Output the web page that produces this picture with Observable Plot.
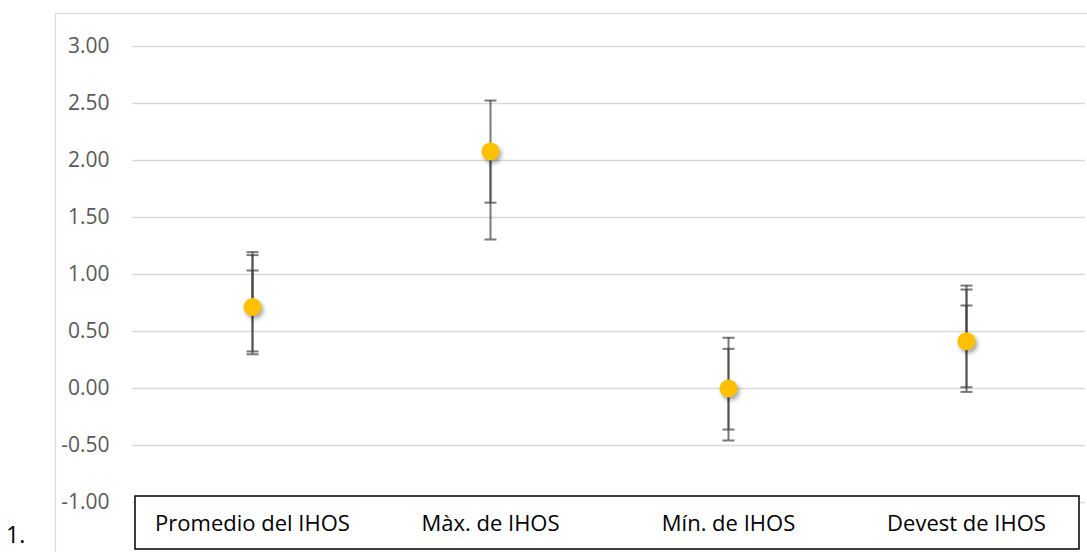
<!DOCTYPE html>
<html>
<head>
<meta charset="utf-8">
<script src="https://cdn.jsdelivr.net/npm/d3@7"></script>
<script src="https://cdn.jsdelivr.net/npm/@observablehq/plot@0.6"></script>
<style>
  html, body { margin: 0; padding: 0; background: white; }
  #wrap { position: relative; width: 1087px; height: 552px; overflow: hidden; font-family: "Open Sans", sans-serif; }
  #num { position: absolute; left: 6px; top: 522px; font-size: 23px; color: #000; line-height: 1.1; }
</style>
</head>
<body>
<div id="wrap"><div id="num">1.</div></div>
<script>
const categories = ["Promedio del IHOS", "Màx. de IHOS", "Mín. de IHOS", "Devest de IHOS"];
const values = [0.715, 2.08, 0.00, 0.415];
// error bar set A (both ends capped)
const errALow  = [0.30, 1.63, -0.456, -0.03];
const errAHigh = [1.196, 2.526, 0.445, 0.903];
// error bar set B (null = no cap, line stops at the point)
const errBLow  = [0.325, 1.307, -0.36, 0.011];
const errBHigh = [1.17, null, 0.348, 0.868];
// error bar set C (upper only)
const errCHigh = [1.035, null, null, 0.728];
const yTicks = [-1.0, -0.5, 0.0, 0.5, 1.0, 1.5, 2.0, 2.5, 3.0];

const points = categories.map((c, i) => ({cat: c, v: values[i]}));
const segments = [];
const caps = [];
categories.forEach((c, i) => {
  const v = values[i];
  const sets = [[errALow[i], errAHigh[i]], [errBLow[i], errBHigh[i]], [null, errCHigh[i]]];
  for (const [lo, hi] of sets) {
    if (lo == null && hi == null) continue;
    segments.push({cat: c, y1: lo ?? v, y2: hi ?? v});
    if (lo != null) caps.push({cat: c, y: lo});
    if (hi != null) caps.push({cat: c, y: hi});
  }
});

const capSymbol = {
  draw(context, size) {
    const r = Math.sqrt(size / Math.PI);
    context.moveTo(-r, 0);
    context.lineTo(r, 0);
  }
};

const chart = Plot.plot({
  width: 1087,
  height: 552,
  marginLeft: 132,
  marginRight: 2,
  marginTop: 46,
  marginBottom: 50,
  style: {fontFamily: "Open Sans, sans-serif", background: "transparent", overflow: "visible"},
  x: {type: "point", domain: categories, padding: 0.5},
  y: {domain: [-1, 3]},
  marks: [
    Plot.ruleY(yTicks, {stroke: "#d9d9d9", strokeWidth: 1.3}),
    Plot.axisY({ticks: yTicks, tickFormat: d => d.toFixed(2), tickSize: 0, tickPadding: 23, fontSize: 21, fill: "#595959", label: null}),
    Plot.ruleX(segments, {x: "cat", y1: "y1", y2: "y2", stroke: "#404040", strokeOpacity: 0.7, strokeWidth: 2}),
    Plot.dot(caps, {x: "cat", y: "y", symbol: capSymbol, r: 6, fill: "none", stroke: "#404040", strokeOpacity: 0.7, strokeWidth: 2}),
    Plot.dot(points, {x: "cat", y: "v", r: 9, fill: "#ffc000", stroke: "none"}),
    Plot.axisX({tickSize: 0, tickPadding: 13, fontSize: 22, fill: "#000", label: null})
  ]
});

const svg = d3.select(chart);
// outer chart border
svg.insert("rect", ":first-child")
  .attr("x", 55.5).attr("y", 13.5).attr("width", 1100).attr("height", 600)
  .attr("fill", "none").attr("stroke", "#d9d9d9").attr("stroke-width", 1.2);
// category box, placed before the x axis labels
const xAxisG = svg.selectAll("g").filter(function() {
  const a = this.getAttribute("aria-label") || "";
  return a.startsWith("x-axis");
});
svg.append("rect")
  .attr("x", 135).attr("y", 496).attr("width", 944).attr("height", 53)
  .attr("fill", "white").attr("stroke", "#000").attr("stroke-width", 1.5);
xAxisG.each(function() { chart.appendChild(this); });
// shadow on the points
const dotGroups = svg.selectAll('g[aria-label="dot"]').nodes();
if (dotGroups.length) d3.select(dotGroups[dotGroups.length - 1]).style("filter", "drop-shadow(2px 3px 2px rgba(0,0,0,0.35))");

const wrap = document.getElementById("wrap");
chart.style.position = "absolute";
chart.style.left = "0";
chart.style.top = "0";
wrap.insertBefore(chart, wrap.firstChild);
</script>
</body>
</html>
